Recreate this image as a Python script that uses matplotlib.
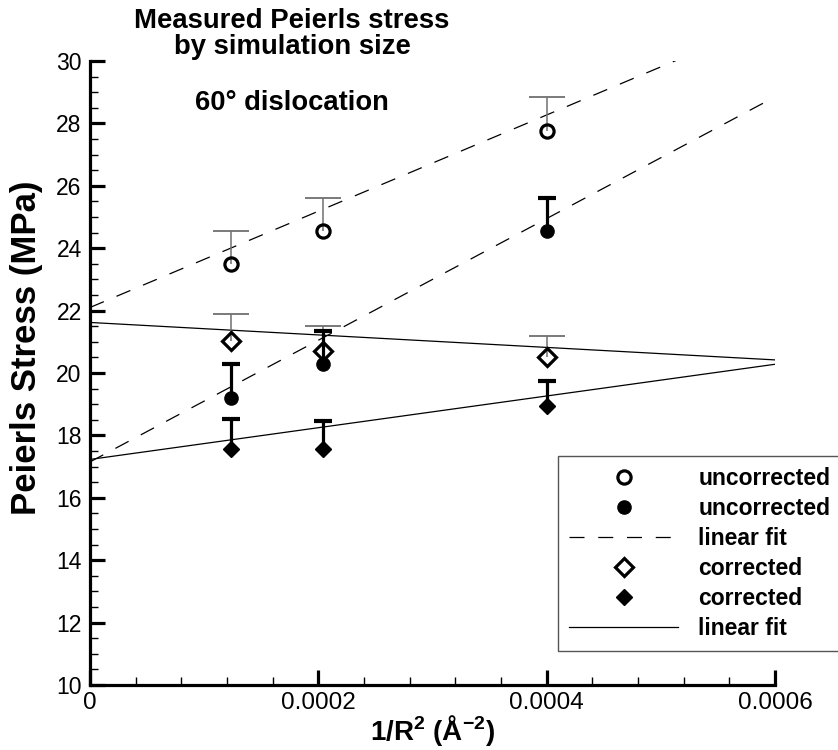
import numpy as np
import matplotlib
matplotlib.use('Agg')
import matplotlib.pyplot as plt
from matplotlib.ticker import MultipleLocator, FixedLocator
from matplotlib.lines import Line2D

plt.rcParams['font.family'] = ['Liberation Sans', 'DejaVu Sans']
plt.rcParams['mathtext.fontset'] = 'custom'
plt.rcParams['mathtext.rm'] = 'Liberation Sans:bold'
plt.rcParams['mathtext.it'] = 'Liberation Sans:bold'
plt.rcParams['mathtext.bf'] = 'Liberation Sans:bold'

# 1/R^2 for R = 90, 70, 50 Angstrom
inv_r2 = [1.235e-4, 2.041e-4, 4.0e-4]

uncorr_open = [23.48, 24.55, 27.76]
uncorr_open_err = [1.08, 1.05, 1.09]
uncorr_filled = [19.21, 20.28, 24.56]
uncorr_filled_err = [1.07, 1.07, 1.06]
corr_open = [21.03, 20.71, 20.52]
corr_open_err = [0.85, 0.81, 0.68]
corr_filled = [17.55, 17.55, 18.94]
corr_filled_err = [0.97, 0.92, 0.80]

# linear fits: (intercept, slope)
fit_uncorr_open = (22.10, 15425.0)
fit_uncorr_filled = (17.15, 19500.0)
fit_corr_open = (21.62, -2000.0)
fit_corr_filled = (17.23, 5083.0)
fit_x = [0.0, 0.0006]

x_ticks = [0.0, 0.0002, 0.0004, 0.0006]
x_tick_labels = ['0', '0.0002', '0.0004', '0.0006']
y_ticks = [10, 12, 14, 16, 18, 20, 22, 24, 26, 28, 30]

legend_labels = ['uncorrected', 'uncorrected', 'linear fit',
                 'corrected', 'corrected', 'linear fit']

fig = plt.figure(figsize=(8.38, 7.5), dpi=100)
ax = fig.add_axes([90 / 838, 1 - 685 / 750, 685 / 838, 624 / 750])
ax.set_xlim(0, 0.0006)
ax.set_ylim(10, 30)

fx = np.array(fit_x)
ax.plot(fx, fit_uncorr_open[0] + fit_uncorr_open[1] * fx, color='black', lw=0.9,
        dashes=(12, 11))
ax.plot(fx, fit_uncorr_filled[0] + fit_uncorr_filled[1] * fx, color='black', lw=0.9,
        dashes=(12, 11))
ax.plot(fx, fit_corr_open[0] + fit_corr_open[1] * fx, color='black', lw=0.9)
ax.plot(fx, fit_corr_filled[0] + fit_corr_filled[1] * fx, color='black', lw=0.9)


def upper_bars(y, err, color, lw, cap, capw):
   y = np.array(y)
   err = np.array(err)
   ax.errorbar(inv_r2, y, yerr=[np.zeros_like(err), err], fmt='none',
               ecolor=color, elinewidth=lw, capsize=0, zorder=3)
   ax.plot(inv_r2, y + err, linestyle='none', marker='_', ms=cap, mew=capw,
           color=color, zorder=3)


upper_bars(uncorr_open, uncorr_open_err, '#707070', 1.1, 26, 1.3)
upper_bars(corr_open, corr_open_err, '#707070', 1.1, 26, 1.3)
upper_bars(uncorr_filled, uncorr_filled_err, 'black', 2.3, 13, 3.0)
upper_bars(corr_filled, corr_filled_err, 'black', 2.3, 13, 3.0)

ax.plot(inv_r2, uncorr_open, 'o', ms=9.5, mfc='none', mec='black', mew=2.3, zorder=4)
ax.plot(inv_r2, uncorr_filled, 'o', ms=9.5, mfc='black', mec='black', zorder=4)
ax.plot(inv_r2, corr_open, 'D', ms=9.5, mfc='none', mec='black', mew=2.3, zorder=4)
ax.plot(inv_r2, corr_filled, 'D', ms=8.5, mfc='black', mec='black', zorder=4)

for s in ['top', 'right']:
   ax.spines[s].set_visible(False)
for s in ['left', 'bottom']:
   ax.spines[s].set_linewidth(2.3)

ax.xaxis.set_major_locator(FixedLocator(x_ticks))
ax.set_xticklabels(x_tick_labels)
ax.xaxis.set_minor_locator(MultipleLocator(0.00004))
ax.yaxis.set_major_locator(FixedLocator(y_ticks))
ax.yaxis.set_minor_locator(MultipleLocator(0.5))
ax.tick_params(which='major', direction='in', length=11, width=2.3,
               labelsize=16.5, pad=6, top=False, right=False)
ax.tick_params(axis='x', which='major', labelsize=17.5, pad=5)
ax.tick_params(which='minor', direction='in', length=6, width=1.0,
               top=False, right=False)

ax.set_xlabel('1/R$^{2}$ (Å$^{-2}$)', fontsize=20, fontweight='bold', va='top')
ax.xaxis.set_label_coords(0.5, -0.045)
ax.set_ylabel('Peierls Stress (MPa)', fontsize=25, fontweight='bold')
ax.yaxis.set_label_coords(-0.068, 0.54)

fig.text(292 / 838, 1 - 34 / 750, 'Measured Peierls stress\nby simulation size',
         ha='center', va='center', fontsize=19.8, fontweight='bold', linespacing=0.98)
fig.text(292 / 838, 1 - 103 / 750, '60° dislocation', ha='center', va='center',
         fontsize=19.7, fontweight='bold')

handles = [
   Line2D([], [], ls='none', marker='o', ms=9.5, mfc='none', mec='black', mew=2.3),
   Line2D([], [], ls='none', marker='o', ms=9.5, mfc='black', mec='black'),
   Line2D([], [], color='black', lw=0.9, dashes=(12, 11)),
   Line2D([], [], ls='none', marker='D', ms=9.5, mfc='none', mec='black', mew=2.3),
   Line2D([], [], ls='none', marker='D', ms=8.5, mfc='black', mec='black'),
   Line2D([], [], color='black', lw=0.9),
]
leg = ax.legend(handles, legend_labels, loc='upper left',
                bbox_to_anchor=(558 / 838, 1 - 456 / 750),
                bbox_transform=fig.transFigure, numpoints=1, fancybox=False,
                prop={'weight': 'bold', 'size': 16.5}, handlelength=4.75,
                handletextpad=0.87, labelspacing=0.3, borderpad=0.5,
                borderaxespad=0, framealpha=1)
leg.get_frame().set_edgecolor('#555555')
leg.get_frame().set_linewidth(1.0)

fig.savefig('out.png', dpi=100)
